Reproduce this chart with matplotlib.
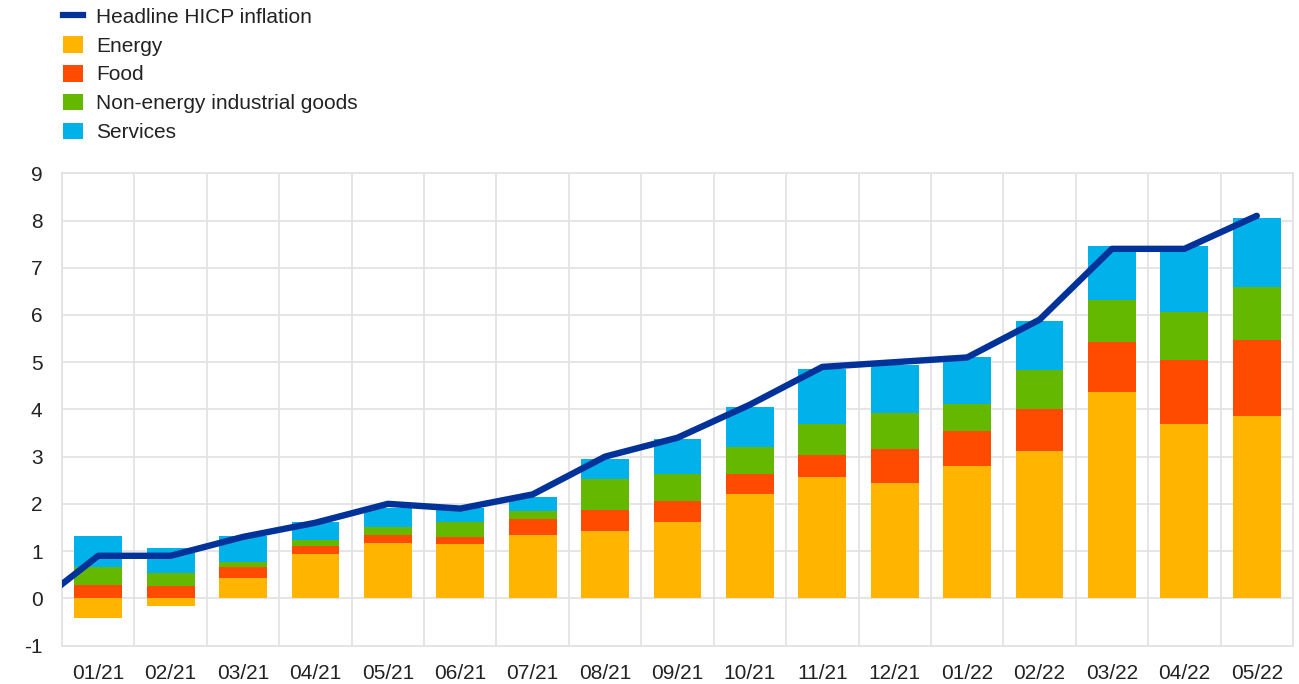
import matplotlib
matplotlib.use("Agg")
import matplotlib.pyplot as plt
import numpy as np
from matplotlib.patches import Patch
from matplotlib.lines import Line2D

plt.rcParams['font.family'] = ['Liberation Sans', 'DejaVu Sans']
plt.rcParams['axes.unicode_minus'] = False

months = ["01/21", "02/21", "03/21", "04/21", "05/21", "06/21", "07/21", "08/21", "09/21",
          "10/21", "11/21", "12/21", "01/22", "02/22", "03/22", "04/22", "05/22"]
energy = [-0.42, -0.16, 0.42, 0.94, 1.18, 1.15, 1.33, 1.43, 1.62, 2.20, 2.56, 2.45, 2.81, 3.11, 4.36, 3.69, 3.87]
food = [0.28, 0.26, 0.24, 0.17, 0.15, 0.14, 0.34, 0.43, 0.45, 0.43, 0.48, 0.71, 0.74, 0.89, 1.06, 1.35, 1.59]
neig = [0.38, 0.27, 0.10, 0.13, 0.17, 0.33, 0.18, 0.66, 0.56, 0.57, 0.65, 0.77, 0.57, 0.84, 0.90, 1.02, 1.13]
services = [0.65, 0.54, 0.55, 0.38, 0.41, 0.29, 0.30, 0.43, 0.74, 0.85, 1.17, 1.01, 0.98, 1.03, 1.13, 1.39, 1.46]
# headline includes the previous month (12/20), which is clipped at the left edge
headline_months = ["12/20"] + months
headline = [-0.3, 0.9, 0.9, 1.3, 1.6, 2.0, 1.9, 2.2, 3.0, 3.4, 4.1, 4.9, 5.0, 5.1, 5.9, 7.4, 7.4, 8.1]

series = [("Energy", energy, "#FFB400"),
          ("Food", food, "#FF4B00"),
          ("Non-energy industrial goods", neig, "#65B800"),
          ("Services", services, "#00B1EA")]
line_color = "#003299"
grid_color = "#e3e3e3"
text_color = "#222222"

fig = plt.figure(figsize=(12.99, 6.84), dpi=100)
ax = fig.add_axes([62 / 1299, 1 - 645.5 / 684, (1293 - 62) / 1299, (645.5 - 173.3) / 684])

x = np.arange(len(months))
pos_base = np.zeros(len(months))
neg_base = np.zeros(len(months))
for name, vals, col in series:
    v = np.array(vals)
    bottom = np.where(v >= 0, pos_base, neg_base)
    ax.bar(x, v, width=0.66, bottom=bottom, color=col, linewidth=0, zorder=2)
    pos_base = pos_base + np.where(v >= 0, v, 0)
    neg_base = neg_base + np.where(v < 0, v, 0)

hx = np.arange(len(headline_months)) - 1
ax.plot(hx, headline, color=line_color, linewidth=4.6, solid_capstyle='round',
        solid_joinstyle='round', zorder=3)

ax.set_xlim(-0.5, len(months) - 0.5)
ax.set_ylim(-1, 9)
ax.set_yticks(range(-1, 10))
ax.set_xticks(x)
ax.set_xticklabels(months)
ax.set_xticks(np.arange(len(months) + 1) - 0.5, minor=True)
ax.grid(True, axis='y', which='major', color=grid_color, linewidth=1.3, zorder=0)
ax.grid(True, axis='x', which='minor', color=grid_color, linewidth=1.3, zorder=0)
ax.grid(False, axis='x', which='major')
ax.set_axisbelow(True)
for s in ax.spines.values():
    s.set_color(grid_color)
    s.set_linewidth(1.3)
ax.tick_params(axis='both', which='both', length=0, labelsize=15, colors=text_color)
ax.tick_params(axis='x', which='major', pad=13)
ax.tick_params(axis='y', which='major', pad=14)

handles = [Line2D([0], [0], color=line_color, linewidth=4.5)]
labels = ["Headline HICP inflation"]
for name, vals, col in series:
    handles.append(Patch(facecolor=col, edgecolor='none'))
    labels.append(name)
leg = fig.legend(handles, labels, loc='upper left', bbox_to_anchor=(59 / 1299, 1 - 3 / 684),
                 frameon=False, fontsize=15, handlelength=0.95, handleheight=0.85,
                 handletextpad=0.65, labelspacing=0.45, borderaxespad=0, borderpad=0.2)
for t in leg.get_texts():
    t.set_color(text_color)

fig.savefig("out.png", dpi=100)
